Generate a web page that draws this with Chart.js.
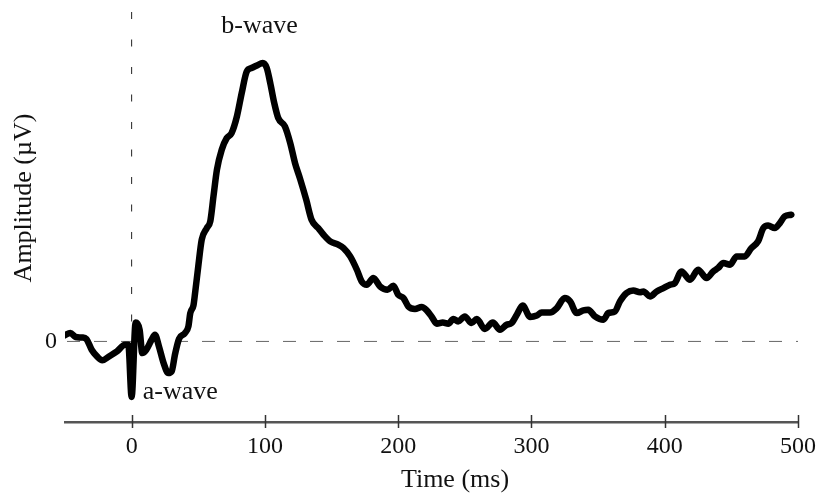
<!DOCTYPE html>
<html>
<head>
<meta charset="utf-8">
<title>ERG waveform</title>
<script src="https://cdn.jsdelivr.net/npm/chart.js@4/dist/chart.umd.min.js"></script>
<style>
    html, body { margin: 0; padding: 0; background: #fff; }
    #ergChart { display: block; }
</style>
</head>
<body>
<canvas id="ergChart" width="818" height="501"></canvas>
<script>
// Time points (ms)
const timeMs = [
    -51, -46, -42, -37, -34, -30, -26, -22, -17, -11, -5, -2.5, 0, 3, 6, 8, 11, 15, 17.5, 20.5,
    24, 27.5, 30, 32.6, 35.6, 40, 42.6, 44, 46.4, 47.6, 50, 52.6, 56.4, 59, 61.4, 64, 67.6, 71.4, 75, 79,
    82.6, 86.4, 90, 94, 98.4, 101.4, 104, 107, 110, 115, 119, 122.6, 126.4, 131, 135, 140, 144, 149, 155, 159,
    164, 169, 172.6, 176.4, 181.4, 186.4, 192, 196.4, 200, 204, 207.6, 212.6, 217.6, 221.4, 225, 229, 233.4, 237.6, 241.4, 245,
    250, 255, 259, 265, 271, 276.4, 281.4, 285, 289, 293.4, 299, 304, 307.6, 314, 319, 325, 329, 334, 339, 342.6,
    347.6, 354, 357.6, 362.6, 366.4, 371.4, 376.4, 381.4, 384, 389, 394, 399, 404, 407.6, 412.6, 419, 425, 431.4, 436.4, 440,
    444, 449, 454, 460, 465, 470, 474, 477.6, 482.6, 486.4, 490, 495
];

// Amplitude (arbitrary units, b-wave peak ~100)
const amplitude = [
    2.0, 3.0, 1.6, 1.4, 0.9, -3.0, -5.4, -6.8, -5.4, -3.6, -1.2, -1.2, -20, 6.8, 4.2, -4.2, -3.0, 0.6, 2.4, -1.8,
    -7.8, -11.4, -10.8, -4.5, 1.0, 3.0, 5.4, 10.2, 13, 17.4, 27, 36.6, 40.8, 43.2, 52.2, 61.8, 69, 73.2, 75, 81,
    89.4, 97.2, 98.4, 99.3, 100.2, 98.4, 93, 85.8, 80.4, 77.4, 71.4, 64.2, 58.5, 51, 43.8, 40.8, 38.4, 36, 34.8, 33.6,
    30.6, 25.8, 21.6, 20.4, 22.8, 19.8, 18.6, 20, 16.8, 15.6, 12.6, 11.7, 12.4, 11.2, 9, 6.4, 6.8, 6.4, 8.1, 7.2,
    9, 6.6, 8.1, 4.5, 6.8, 4.2, 6, 6.6, 9.6, 12.9, 8.8, 9.3, 10.4, 10.4, 12, 15.6, 14.4, 10.2, 11.2, 11.4,
    9, 7.8, 10.2, 10.8, 14.4, 17.4, 18.3, 17.7, 18, 16.2, 18, 19.2, 20.4, 21, 25.2, 22.2, 25.8, 22.8, 25.2, 26.4,
    28.2, 27.6, 30.6, 30.6, 33.6, 36, 40.8, 41.7, 40.8, 42.6, 45, 45.6
];

// Tick labels
const xTicks = [0, 100, 200, 300, 400, 500];
const yTicks = [0];

// Wave annotations (data coordinates)
const waveLabels = [
    { text: 'b-wave', x: 96, y: 111 },
    { text: 'a-wave', x: 36.5, y: -20.6 }
];

const SERIF = '"Liberation Serif", "Times New Roman", serif';

document.addEventListener('DOMContentLoaded', () => {
    initializeErgChart();
});

// Dashed reference lines at t = 0 and amplitude = 0
const referenceLines = {
    id: 'referenceLines',
    beforeDatasetsDraw(chart) {
        const { ctx, chartArea, scales } = chart;
        const x0 = scales.x.getPixelForValue(0);
        const y0 = scales.y.getPixelForValue(0);
        ctx.save();
        ctx.lineWidth = 1;

        ctx.strokeStyle = '#666';
        ctx.setLineDash([13, 14]);
        ctx.beginPath();
        ctx.moveTo(chartArea.left + 2, y0);
        ctx.lineTo(chartArea.right, y0);
        ctx.stroke();

        ctx.strokeStyle = '#222';
        ctx.setLineDash([7, 20.5]);
        ctx.beginPath();
        ctx.moveTo(x0, chartArea.top + 4);
        ctx.lineTo(x0, y0);
        ctx.stroke();
        ctx.restore();
    }
};

// Tick marks crossing the x axis, titles and wave labels
const axisDecor = {
    id: 'axisDecor',
    afterDraw(chart) {
        const { ctx, chartArea, scales } = chart;
        ctx.save();

        ctx.strokeStyle = '#333';
        ctx.lineWidth = 1.5;
        xTicks.forEach(v => {
            const px = Math.round(scales.x.getPixelForValue(v)) + 0.5;
            ctx.beginPath();
            ctx.moveTo(px, chartArea.bottom - 7);
            ctx.lineTo(px, chartArea.bottom + 6);
            ctx.stroke();
        });

        ctx.fillStyle = '#111';
        ctx.font = '26px ' + SERIF;
        ctx.textAlign = 'center';

        waveLabels.forEach(l => {
            ctx.textBaseline = 'alphabetic';
            ctx.fillText(l.text, scales.x.getPixelForValue(l.x), scales.y.getPixelForValue(l.y));
        });

        ctx.textBaseline = 'middle';
        ctx.fillText('Time (ms)', 455, 480);

        ctx.translate(24, 198);
        ctx.rotate(-Math.PI / 2);
        ctx.fillText('Amplitude (\u00b5V)', 0, 0);
        ctx.restore();
    }
};

function initializeErgChart() {
    const ctx = document.getElementById('ergChart').getContext('2d');

    const data = {
        datasets: [{
            label: 'ERG',
            data: timeMs.map((t, i) => ({ x: t, y: amplitude[i] })),
            borderColor: '#000',
            borderWidth: 6.5,
            borderCapStyle: 'round',
            borderJoinStyle: 'round',
            cubicInterpolationMode: 'monotone',
            pointRadius: 0,
            fill: false
        }]
    };

    const config = {
        type: 'line',
        data: data,
        options: {
            responsive: false,
            animation: false,
            devicePixelRatio: 1,
            layout: {
                padding: { top: 8, right: 20, left: 0, bottom: 0 }
            },
            plugins: {
                legend: { display: false },
                tooltip: { enabled: false }
            },
            scales: {
                x: {
                    type: 'linear',
                    min: -50,
                    max: 500,
                    afterBuildTicks: scale => {
                        scale.ticks = xTicks.map(v => ({ value: v }));
                    },
                    afterFit: scale => {
                        scale.height = 79;
                        scale.paddingLeft = 0;
                        scale.paddingRight = 0;
                    },
                    border: { display: true, color: '#555', width: 2.5 },
                    grid: { display: false, drawTicks: false },
                    ticks: {
                        color: '#111',
                        padding: 10,
                        maxRotation: 0,
                        font: { family: SERIF, size: 24 }
                    }
                },
                y: {
                    type: 'linear',
                    min: -29,
                    max: 120,
                    afterBuildTicks: scale => {
                        scale.ticks = yTicks.map(v => ({ value: v }));
                    },
                    afterFit: scale => {
                        scale.width = 65;
                        scale.paddingTop = 0;
                        scale.paddingBottom = 0;
                    },
                    border: { display: false },
                    grid: { display: false, drawTicks: false },
                    ticks: {
                        color: '#111',
                        padding: 8,
                        font: { family: SERIF, size: 24 }
                    }
                }
            }
        },
        plugins: [referenceLines, axisDecor]
    };

    new Chart(ctx, config);
}
</script>
</body>
</html>
